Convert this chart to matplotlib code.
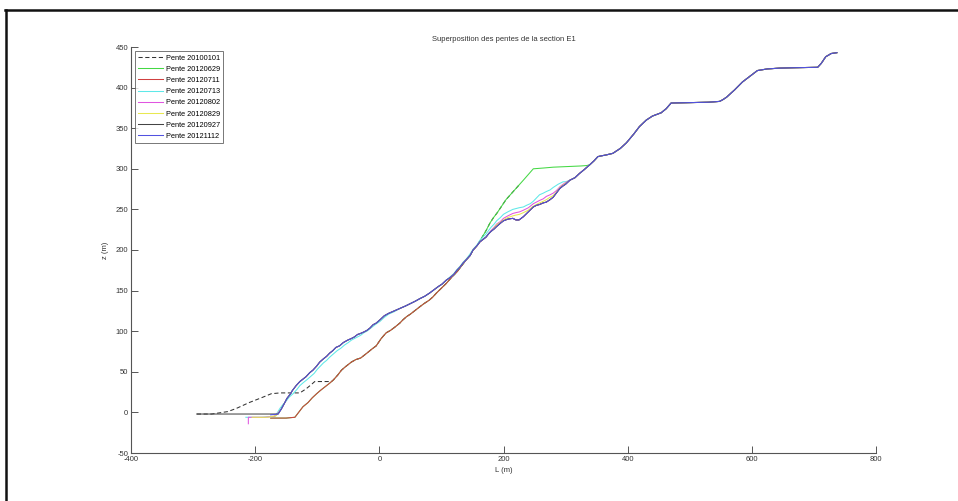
import matplotlib
matplotlib.use("Agg")
import matplotlib.pyplot as plt
from matplotlib.lines import Line2D

# ---------------- data ----------------
# shared upper profile (all surveys coincide)
top_L = [307, 315, 322, 330, 339, 346, 352, 358, 365, 376, 388, 398, 410, 419, 430, 440, 447, 454,
         462, 470, 500, 530, 548, 553, 559, 572, 585, 597, 609, 625, 645, 670, 706, 712, 719, 728, 737]
top_z = [286, 289, 294, 299, 305, 310, 315, 316, 317, 319, 325, 332, 343, 352, 360, 365, 367, 369,
         374, 381, 381.5, 382, 383, 385, 388, 397, 407, 414, 421, 423, 424, 424.5, 425, 430, 438, 442, 443]

# recent profile, lower part
blue_lo_L = [-175, -163, -158, -153, -149, -144, -140, -134, -128, -123, -118, -112, -107, -101, -96,
             -90, -85, -80, -75, -70, -64, -58, -51, -45, -40, -35, -31, -25, -20, -15, -10, -5, 1]
blue_lo_z = [-3, -2, 4, 11, 17, 22, 27, 33, 38, 41, 44, 49, 52, 57, 62, 66, 69, 73, 76, 80, 82, 86,
             89, 91, 93, 96, 97, 99, 101, 104, 108, 110, 114]
# recent profile, middle part
blue_mid_L = [8, 15, 24, 33, 42, 50, 58, 65, 73, 81, 88, 95, 101, 108, 114, 120, 125, 130, 135, 140,
              146, 151, 157, 162, 167, 172, 176, 180, 185, 189, 195, 200, 207, 215, 220, 225, 232, 240,
              248, 253, 258, 264, 269, 275, 280, 285, 291, 296, 300]
blue_mid_z = [119, 122, 125, 128, 131, 134, 137, 140, 143, 147, 151, 155, 158, 163, 166, 170, 175, 179,
              184, 188, 193, 200, 205, 210, 213, 216, 220, 223, 226, 229, 233, 236, 238, 239, 237, 237,
              241, 247, 253, 255, 256, 258, 259, 262, 265, 270, 276, 279, 281]

# older profile (lower curve)
low_L = [-136, -130, -123, -115, -108, -101, -95, -90, -85, -80, -74, -67, -61, -55, -50, -45, -38,
         -30, -25, -20, -12, -5, 3, 11, 18, 25, 33, 38, 44, 50, 55, 60, 65, 72, 80, 86, 92, 100, 108,
         116, 125, 132, 140, 146, 151]
low_z = [-6, 0, 7, 12, 18, 23, 27, 30, 33, 36, 40, 46, 52, 56, 59, 62, 65, 67, 70, 73, 78, 82, 91, 98,
         101, 105, 110, 114, 118, 121, 124, 127, 130, 134, 138, 142, 147, 153, 159, 166, 173, 180, 188,
         193, 200]
start_lo_L = [-175, -150]
start_lo_z = [-7, -7]

green_up_L = [158, 165, 172, 178, 184, 190, 197, 204, 211, 218, 225, 232, 240, 248, 265, 280, 295,
              310, 325, 334]
green_up_z = [206, 215, 224, 233, 240, 246, 254, 262, 268, 274, 280, 286, 293, 300, 301, 302, 302.5,
              303, 303.5, 304]

dash_start_L = [-294, -270, -244, -230, -210, -190, -174, -160, -150, -140, -128, -118, -110, -104,
                -95, -85, -77]
dash_start_z = [-2, -2, 1, 5, 12, 18, 23, 24, 24, 24, 24, 29, 34, 38, 38, 38, 38]

cyan_lo_L = [-215, -190, -168, -164, -160, -155, -150, -145, -139, -133, -128, -122, -117, -111, -105,
             -100, -95, -90, -85, -80, -74, -68, -62, -56, -50, -45, -40, -35, -30, -25, -20, -15, -10,
             -5, 1]
cyan_lo_z = [-6, -6, -5, 0, 5, 10, 14, 19, 23, 28, 33, 37, 40, 44, 48, 53, 57, 61, 64, 68, 72, 76, 79,
             83, 86, 89, 91, 93, 95, 98, 100, 103, 106, 109, 112]
cyan_mid_L = [8, 15, 24, 33, 42, 50, 58, 65, 73, 81, 88, 95, 101, 108, 114, 120, 125, 130, 135, 140,
              146, 151, 157, 162, 167, 172, 176, 180, 185, 189, 195, 200, 207, 215, 220, 225, 232, 237,
              243, 248, 253, 258, 264, 269, 275, 280, 288, 296, 300]
cyan_mid_z = [117, 121, 124, 128, 131, 134, 137, 140, 143, 147, 151, 155, 158, 163, 167, 171, 176, 180,
              185, 189, 195, 201, 206, 212, 216, 220, 224, 228, 232, 236, 240, 244, 247, 250, 251, 252,
              253, 255, 257, 260, 264, 268, 270, 272, 274, 277, 281, 284, 284]

pink_lo_L = [-211, -211, -205, -185, -170, -166]
pink_lo_z = [-14, -6, -6, -6, -5, -3]
split_L = [180, 185, 189, 195, 200, 207, 215, 220, 226, 232, 240, 248, 253, 258, 264, 269, 275, 280,
           285, 291, 296, 300]
pink_split_z = [224, 228, 232, 235, 239, 242, 245, 246, 247, 249, 252, 257, 259, 261, 263, 266, 268,
                270, 273, 278, 281, 283]
yellow_lo_L = [-205, -180, -166]
yellow_lo_z = [-6, -6, -4]
yellow_split_z = [223, 227, 231, 234, 237, 240, 242, 243, 244, 246, 249, 254, 256, 258, 260, 262, 265,
                  267, 271, 277, 280, 282]
black_lo_L = [-294, -250, -200, -163]
black_lo_z = [-2, -2, -2, -2]

labels = ["Pente 20100101", "Pente 20120629", "Pente 20120711", "Pente 20120713",
          "Pente 20120802", "Pente 20120829", "Pente 20120927", "Pente 20121112"]

# --------------- assemble each survey ---------------
series = []
# 20100101 (dashed)
series.append((dash_start_L + low_L[10:] + green_up_L[:11],
               dash_start_z + low_z[10:] + green_up_z[:11]))
# 20120629 green
series.append((start_lo_L + low_L + green_up_L + top_L[4:],
               start_lo_z + low_z + green_up_z + top_z[4:]))
# 20120711 red
series.append((start_lo_L + low_L + blue_mid_L[22:] + top_L,
               start_lo_z + low_z + blue_mid_z[22:] + top_z))
# 20120713 cyan
series.append((cyan_lo_L + cyan_mid_L + top_L, cyan_lo_z + cyan_mid_z + top_z))
# 20120802 magenta
series.append((pink_lo_L + blue_lo_L[2:] + blue_mid_L[:27] + split_L + top_L,
               pink_lo_z + blue_lo_z[2:] + blue_mid_z[:27] + pink_split_z + top_z))
# 20120829 yellow
series.append((yellow_lo_L + blue_lo_L[2:] + blue_mid_L[:27] + split_L + top_L,
               yellow_lo_z + blue_lo_z[2:] + blue_mid_z[:27] + yellow_split_z + top_z))
# 20120927 black
series.append((black_lo_L + blue_lo_L[2:] + blue_mid_L + top_L,
               black_lo_z + blue_lo_z[2:] + blue_mid_z + top_z))
# 20121112 blue
series.append((blue_lo_L + blue_mid_L + top_L, blue_lo_z + blue_mid_z + top_z))

colors = ["#333333", "#44d844", "#d04040", "#5ee8e8", "#e055e0", "#e8e850", "#444444", "#5252e0"]
styles = [(0, (4, 2.5)), "-", "-", "-", "-", "-", "-", "-"]

# --------------- figure ---------------
plt.rcParams['font.family'] = ['Liberation Sans', 'DejaVu Sans']
plt.rcParams['axes.unicode_minus'] = False
fig = plt.figure(figsize=(9.58, 5.01), dpi=100)
ax = fig.add_axes([131 / 958, 1 - 453 / 501, (876 - 131) / 958, (453 - 47) / 501])

for (L, z), c, ls, lab in zip(series, colors, styles, labels):
    ax.plot(L, z, color=c, linestyle=ls, linewidth=0.75, label=lab)

ax.set_xlim(-400, 800)
ax.set_ylim(-50, 450)
ax.set_xticks(range(-400, 801, 200))
ax.set_yticks(range(-50, 451, 50))
for s in ["top", "right"]:
    ax.spines[s].set_visible(False)
for s in ["left", "bottom"]:
    ax.spines[s].set_color("#555555")
    ax.spines[s].set_linewidth(0.8)
ax.tick_params(direction="in", length=5, width=0.7, color="#555555", labelsize=5.5,
               labelcolor="#333333", pad=2)
ax.set_title("Superposition des pentes de la section E1", fontsize=5.5, color="#333333", pad=4)
ax.set_xlabel("L (m)", fontsize=5.5, color="#333333", labelpad=3)
ax.set_ylabel("z (m)", fontsize=5.5, color="#333333", labelpad=5)

leg = ax.legend(loc="upper left", fontsize=5.3, frameon=True, fancybox=False,
                handlelength=3.4, handletextpad=0.3, labelspacing=0.55, borderpad=0.4,
                borderaxespad=0.6)
leg.get_frame().set_edgecolor("#555555")
leg.get_frame().set_linewidth(0.7)

# outer frame (top and left border of the screenshot)
fig.add_artist(Line2D([5 / 958, 1.0], [1 - 9.5 / 501, 1 - 9.5 / 501], color="#111111",
                      linewidth=1.8, transform=fig.transFigure))
fig.add_artist(Line2D([6 / 958, 6 / 958], [0.0, 1 - 9.5 / 501], color="#111111",
                      linewidth=1.8, transform=fig.transFigure))

fig.savefig("out.png", dpi=100)
